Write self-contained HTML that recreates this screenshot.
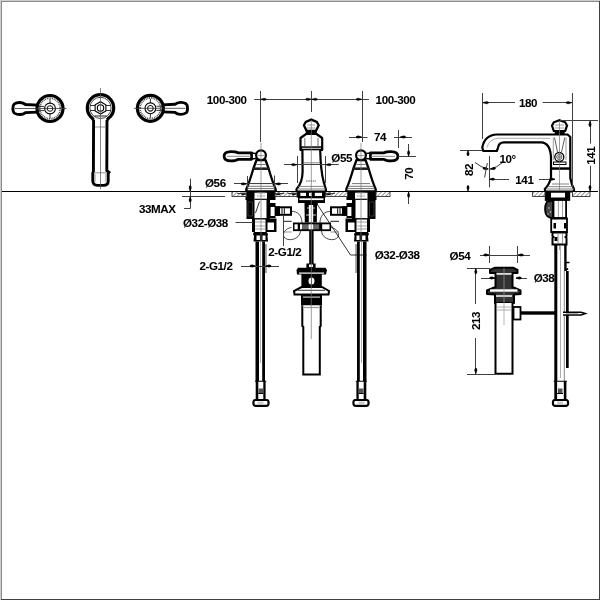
<!DOCTYPE html>
<html><head><meta charset="utf-8">
<style>
html,body{margin:0;padding:0;background:#fff;width:600px;height:600px;overflow:hidden}
svg{display:block;will-change:transform}
text{font-family:"Liberation Sans",sans-serif;font-weight:bold;font-size:11.6px;fill:#000;letter-spacing:-0.4px;stroke:#000;stroke-width:0.05px}
</style></head><body>
<svg width="600" height="600" viewBox="0 0 600 600">
<defs>
<pattern id="hatch" patternUnits="userSpaceOnUse" width="3" height="3" patternTransform="rotate(45)">
<rect width="3" height="3" fill="#fff"/><rect width="0.9" height="3" fill="#8a8a8a"/>
</pattern>
</defs>
<rect x="0" y="0" width="600" height="600" fill="#fff"/>
<g transform="translate(50,108.5) scale(1,1)">
<path d="M-12,-3.4 L-24.5,-4 C-27.5,-6.4 -32.5,-6.6 -35.6,-4.6 C-37.6,-3 -37.6,3.2 -35.6,4.6 C-32.5,6.6 -27.5,6.6 -24.5,4.1 L-12,3.6" fill="#fff" stroke="#000" stroke-width="2.9"/>
<circle r="13" fill="#fff" stroke="#000" stroke-width="3.2"/>
<circle r="10.3" fill="none" stroke="#444" stroke-width="1.8" stroke-dasharray="0.9 0.9"/>
<circle r="5.4" fill="none" stroke="#000" stroke-width="1.1"/>
<circle r="2.8" fill="none" stroke="#222" stroke-width="1.1"/>
<path d="M-12,-2.1 L-6,-2.1 M-12,2.1 L-6,2.1" stroke="#000" stroke-width="0.8"/>
<line x1="-35" y1="0" x2="16.5" y2="0" stroke="#333" stroke-width="0.8"/>
<path d="M0,-9.5 L0,-5.5 M0,5.5 L0,9.5" stroke="#000" stroke-width="0.8"/>
</g>
<g transform="translate(150.4,108.3) scale(-1,1)">
<path d="M-12,-3.4 L-24.5,-4 C-27.5,-6.4 -32.5,-6.6 -35.6,-4.6 C-37.6,-3 -37.6,3.2 -35.6,4.6 C-32.5,6.6 -27.5,6.6 -24.5,4.1 L-12,3.6" fill="#fff" stroke="#000" stroke-width="2.9"/>
<circle r="13" fill="#fff" stroke="#000" stroke-width="3.2"/>
<circle r="10.3" fill="none" stroke="#444" stroke-width="1.8" stroke-dasharray="0.9 0.9"/>
<circle r="5.4" fill="none" stroke="#000" stroke-width="1.1"/>
<circle r="2.8" fill="none" stroke="#222" stroke-width="1.1"/>
<path d="M-12,-2.1 L-6,-2.1 M-12,2.1 L-6,2.1" stroke="#000" stroke-width="0.8"/>
<line x1="-35" y1="0" x2="16.5" y2="0" stroke="#333" stroke-width="0.8"/>
<path d="M0,-9.5 L0,-5.5 M0,5.5 L0,9.5" stroke="#000" stroke-width="0.8"/>
</g>
<g>
<path d="M93.6,117 L93.4,171.5 L92.8,173 L92.8,181 Q93,185.3 97.5,185.4 L103.5,185.4 Q108.2,185.3 108.2,181 L108.2,173.5 L109,172.3 L106.8,170.5 L107,117" fill="#fff" stroke="#000" stroke-width="2.9"/>
<path d="M95,127 L105.5,127 M94.5,172.8 L107,172.8" stroke="#777" stroke-width="0.8" fill="none"/>
<path d="M95.2,174 L95.2,182 M105.8,174 L105.8,182" stroke="#999" stroke-width="0.8" fill="none"/>
<path d="M93.5,120 Q92,117.5 90.5,116.5 A13.2 13.2 0 1 1 110.5,116.5 Q109,117.5 107,120" fill="#fff" stroke="#000" stroke-width="3.2"/>
<circle cx="100.5" cy="107.9" r="10.6" fill="none" stroke="#333" stroke-width="0.9"/>
<path d="M90.5,105.5 L96,105.5 M105,105.5 L110.5,105.5 M90.5,110.5 L96,110.5 M105,110.5 L110.5,110.5" stroke="#000" stroke-width="0.8"/>
<polygon points="105.87,111.00 100.50,114.10 95.13,111.00 95.13,104.80 100.50,101.70 105.87,104.80" fill="#fff" stroke="#000" stroke-width="1.1"/>
<circle cx="100.5" cy="107.9" r="3.2" fill="none" stroke="#000" stroke-width="1.1"/>
<path d="M94.5,116 L106.5,116" stroke="#000" stroke-width="0.9"/>
<line x1="100.5" y1="88" x2="100.5" y2="189" stroke="#555" stroke-width="0.7"/>
</g>
<g transform="translate(261,0) scale(1,1)">
<path d="M-9.5,152.8 L-23,152.8 C-25,151.6 -27,151.6 -30,151.6 C-35,151.6 -36.9,153.5 -36.9,156.2 C-36.9,159 -35,160.8 -30,160.8 C-27,160.8 -25,160.8 -23,159.3 L-9.5,159.3 Z" fill="#fff" stroke="#000" stroke-width="2.8" stroke-linejoin="round"/>
<path d="M-34,156.3 L-10,156.3" stroke="#888" stroke-width="1"/>
<path d="M-10,153 L-5,153.5 M-10,159 L-5,158.5" stroke="#000" stroke-width="1.3"/>
<path d="M-4.5,160 L-7.6,168.5 Q-11.5,182 -14.6,189 L-14.8,191.5 L14.8,191.5 L14.6,189 Q11.5,182 7.6,168.5 L4.5,160 Z" fill="#fff" stroke="#000" stroke-width="2.3" stroke-linejoin="round"/>
<rect x="-7.8" y="167.4" width="15.6" height="2.6" fill="#222"/>
<path d="M-4.5,164.5 L4.5,164.5 M-9,183.6 L9,183.6 M-12.5,186.3 L12.5,186.3 M-13.5,188.6 L13.5,188.6" stroke="#666" stroke-width="0.9"/>
<circle cx="0" cy="155.3" r="4.9" fill="#fff" stroke="#000" stroke-width="2.2"/>
<path d="M-3.5,155.5 L3.5,155.5" stroke="#777" stroke-width="0.7"/>
<rect x="-15.5" y="191.5" width="9" height="8.5" fill="#000"/>
<rect x="6" y="191.5" width="8.5" height="8.5" fill="#000"/>
<path d="M-6.5,199.3 L6,199.3" stroke="#000" stroke-width="1.2"/>
<path d="M-4,193 L4,193 M-4,196 L4,196" stroke="#999" stroke-width="0.8"/>
<rect x="-14.5" y="200" width="8" height="19" fill="#000"/>
<path d="M-13,202 L-8.5,202 L-8.5,216 L-13,216 Z" fill="none" stroke="#555" stroke-width="0.6"/>
<rect x="5.5" y="200" width="3.5" height="19" fill="#000"/>
<rect x="9" y="203" width="5.5" height="15" fill="#000"/>
<rect x="9.6" y="207" width="4" height="9" fill="#fff"/>
<path d="M-5.5,213 L-1.5,201.5" stroke="#000" stroke-width="0.8"/>
<path d="M-6.5,218.8 L5.5,218.8" stroke="#000" stroke-width="1.4"/>
<rect x="15" y="207.3" width="15" height="7.5" fill="#fff" stroke="#000" stroke-width="2"/>
<rect x="14" y="206.3" width="5" height="9.5" fill="#000"/>
<path d="M21,208.3 L21,213.8 M23.3,208.3 L23.3,213.8" stroke="#000" stroke-width="1"/>
<rect x="-9" y="218.5" width="3" height="13.5" fill="#000"/>
<rect x="4.5" y="218.5" width="11" height="13.5" fill="#000"/>
<rect x="6.5" y="222.5" width="6.5" height="7.5" fill="#fff"/>
<path d="M-6,222 L4.5,222 M-6,226 L4.5,226 M-6,229 L4.5,229" stroke="#888" stroke-width="0.8"/>
<path d="M-7,232 L5.5,232 L7,234 L6.5,236 L7,241.5 L-7.5,241.5 L-7,236 L-8,234 Z" fill="#000"/>
<rect x="-4.5" y="235.5" width="3.4" height="4.5" fill="#fff"/><rect x="1.5" y="235.5" width="3" height="4.5" fill="#fff"/>
<rect x="-5.5" y="241.5" width="3.5" height="139.5" fill="#000"/>
<rect x="1.2" y="241.5" width="2.8" height="139.5" fill="#000"/>
<rect x="4" y="244" width="1.8" height="29" fill="#999"/>
<path d="M-0.5,242 L-0.5,363" stroke="#999" stroke-width="0.8"/>
<rect x="-5.3" y="381" width="2.6" height="18.5" fill="#000"/>
<rect x="2.3" y="381" width="2.3" height="18.5" fill="#000"/>
<path d="M-6,381.2 L5.2,381.2 M-2.7,393.5 L2.3,393.5" stroke="#000" stroke-width="1.1"/>
<rect x="-2.5" y="388.5" width="4.5" height="4.5" fill="#555"/>
<path d="M-5.8,400 Q-7.6,400 -7.6,402.8 Q-7.6,405.8 -5.8,405.8 L5.8,405.8 Q7.6,405.8 7.6,402.8 Q7.6,400 5.8,400 Z" fill="#fff" stroke="#000" stroke-width="2.2"/>
<rect x="-3.5" y="401.5" width="6" height="2.8" fill="#ccc"/>
<line x1="0" y1="143" x2="0" y2="242" stroke="#777" stroke-width="0.7"/>
</g>
<g transform="translate(361,0) scale(-1,1)">
<path d="M-9.5,152.8 L-23,152.8 C-25,151.6 -27,151.6 -30,151.6 C-35,151.6 -36.9,153.5 -36.9,156.2 C-36.9,159 -35,160.8 -30,160.8 C-27,160.8 -25,160.8 -23,159.3 L-9.5,159.3 Z" fill="#fff" stroke="#000" stroke-width="2.8" stroke-linejoin="round"/>
<path d="M-34,156.3 L-10,156.3" stroke="#888" stroke-width="1"/>
<path d="M-10,153 L-5,153.5 M-10,159 L-5,158.5" stroke="#000" stroke-width="1.3"/>
<path d="M-4.5,160 L-7.6,168.5 Q-11.5,182 -14.6,189 L-14.8,191.5 L14.8,191.5 L14.6,189 Q11.5,182 7.6,168.5 L4.5,160 Z" fill="#fff" stroke="#000" stroke-width="2.3" stroke-linejoin="round"/>
<rect x="-7.8" y="167.4" width="15.6" height="2.6" fill="#222"/>
<path d="M-4.5,164.5 L4.5,164.5 M-9,183.6 L9,183.6 M-12.5,186.3 L12.5,186.3 M-13.5,188.6 L13.5,188.6" stroke="#666" stroke-width="0.9"/>
<circle cx="0" cy="155.3" r="4.9" fill="#fff" stroke="#000" stroke-width="2.2"/>
<path d="M-3.5,155.5 L3.5,155.5" stroke="#777" stroke-width="0.7"/>
<rect x="-15.5" y="191.5" width="9" height="8.5" fill="#000"/>
<rect x="6" y="191.5" width="8.5" height="8.5" fill="#000"/>
<path d="M-6.5,199.3 L6,199.3" stroke="#000" stroke-width="1.2"/>
<path d="M-4,193 L4,193 M-4,196 L4,196" stroke="#999" stroke-width="0.8"/>
<rect x="-14.5" y="200" width="8" height="19" fill="#000"/>
<path d="M-13,202 L-8.5,202 L-8.5,216 L-13,216 Z" fill="none" stroke="#555" stroke-width="0.6"/>
<rect x="5.5" y="200" width="3.5" height="19" fill="#000"/>
<rect x="9" y="203" width="5.5" height="15" fill="#000"/>
<rect x="9.6" y="207" width="4" height="9" fill="#fff"/>
<path d="M-6.5,218.8 L5.5,218.8" stroke="#000" stroke-width="1.4"/>
<rect x="15" y="207.3" width="15" height="7.5" fill="#fff" stroke="#000" stroke-width="2"/>
<rect x="14" y="206.3" width="5" height="9.5" fill="#000"/>
<path d="M21,208.3 L21,213.8 M23.3,208.3 L23.3,213.8" stroke="#000" stroke-width="1"/>
<rect x="-9" y="218.5" width="3" height="13.5" fill="#000"/>
<rect x="4.5" y="218.5" width="11" height="13.5" fill="#000"/>
<rect x="6.5" y="222.5" width="6.5" height="7.5" fill="#fff"/>
<path d="M-6,222 L4.5,222 M-6,226 L4.5,226 M-6,229 L4.5,229" stroke="#888" stroke-width="0.8"/>
<path d="M-7,232 L5.5,232 L7,234 L6.5,236 L7,241.5 L-7.5,241.5 L-7,236 L-8,234 Z" fill="#000"/>
<rect x="-4.5" y="235.5" width="3.4" height="4.5" fill="#fff"/><rect x="1.5" y="235.5" width="3" height="4.5" fill="#fff"/>
<rect x="-5.5" y="241.5" width="3.5" height="139.5" fill="#000"/>
<rect x="1.2" y="241.5" width="2.8" height="139.5" fill="#000"/>
<rect x="4" y="244" width="1.8" height="29" fill="#999"/>
<path d="M-0.5,242 L-0.5,363" stroke="#999" stroke-width="0.8"/>
<rect x="-5.3" y="381" width="2.6" height="18.5" fill="#000"/>
<rect x="2.3" y="381" width="2.3" height="18.5" fill="#000"/>
<path d="M-6,381.2 L5.2,381.2 M-2.7,393.5 L2.3,393.5" stroke="#000" stroke-width="1.1"/>
<rect x="-2.5" y="388.5" width="4.5" height="4.5" fill="#555"/>
<path d="M-5.8,400 Q-7.6,400 -7.6,402.8 Q-7.6,405.8 -5.8,405.8 L5.8,405.8 Q7.6,405.8 7.6,402.8 Q7.6,400 5.8,400 Z" fill="#fff" stroke="#000" stroke-width="2.2"/>
<rect x="-3.5" y="401.5" width="6" height="2.8" fill="#ccc"/>
<line x1="0" y1="143" x2="0" y2="242" stroke="#777" stroke-width="0.7"/>
</g>
<g>
<path d="M300.5,138 L300.5,150 L302.4,150 L302.6,172 Q302.3,183 296.6,189 L296.4,191.5 L326,191.5 L325.8,189 Q321.5,177 320.6,160 L320.2,150 L322.2,150 L322.2,138 L316.5,134 L306.1,134 Z" fill="#fff" stroke="#000" stroke-width="2.2" stroke-linejoin="round"/>
<rect x="300.5" y="146.3" width="21.7" height="4" fill="#000"/>
<path d="M302,148.3 L321,148.3" stroke="#fff" stroke-width="0.9"/>
<path d="M304.8,138 L304.8,146 M318,138 L318,146" stroke="#888" stroke-width="1.2"/>
<path d="M303.5,162.8 L320,162.8 M298,186.4 L324.5,186.4 M297,189 L325.5,189" stroke="#666" stroke-width="0.8"/>
<path d="M306,181 L316,181" stroke="#555" stroke-width="1" stroke-dasharray="1.5 0.8"/>
<path d="M311.3,119.6 L316.8,122 L318.7,125.3 L316,130.8 L306.6,130.8 L303.9,125.3 L305.8,122 Z" fill="#fff" stroke="#000" stroke-width="2.3" stroke-linejoin="miter"/>
<rect x="305.8" y="130" width="11" height="4.2" fill="#000"/>
<path d="M307.5,125 L315,125 M307,128 L315.5,128" stroke="#777" stroke-width="0.7"/>
<rect x="297.5" y="192" width="27.3" height="4.8" fill="#fff" stroke="#000" stroke-width="1.6"/>
<rect x="296.8" y="191.5" width="3.5" height="5.5" fill="#000"/><rect x="322" y="191.5" width="3.3" height="5.5" fill="#000"/>
<rect x="306" y="192" width="3" height="5" fill="#000"/><rect x="311.8" y="192" width="3" height="5" fill="#000"/>
<path d="M298,197 L325,197 L325,203 L298,203 Z" fill="#000"/>
<rect x="299.5" y="198.3" width="24" height="1.8" fill="#fff"/>
<path d="M304.5,203 L318,203 L317,206 L316.8,222.5 L304.8,222.5 L304.5,206 Z" fill="#000"/>
<rect x="308.8" y="205" width="4.4" height="17.5" fill="#fff"/>
<path d="M307,208 L308.8,208 M313.2,208 L315,208" stroke="#fff" stroke-width="0.8"/>
<path d="M306,215 L316,215" stroke="#fff" stroke-width="0.8"/>
<rect x="293" y="222.5" width="38" height="8.6" fill="#000"/>
<rect x="294.5" y="224.3" width="3.2" height="5" fill="#fff"/><rect x="322.2" y="224.3" width="7.3" height="5" fill="#fff"/>
<rect x="300" y="224.3" width="2" height="5" fill="#fff"/><rect x="302" y="224.3" width="6.5" height="5" fill="#666"/><rect x="313.2" y="224.3" width="6" height="5" fill="#666"/>
<rect x="308.5" y="224.3" width="4.7" height="5" fill="#fff"/>
<rect x="309.2" y="231" width="4.4" height="33" fill="#000"/>
<path d="M291.5,211.5 C298,211 302,216 302,223 M300.5,231 C300,240 287,242 284,237 C282,233 286,228 291.5,227.5" fill="none" stroke="#000" stroke-width="0.7"/>
<path d="M283.3,221.3 L291.7,221.3" stroke="#000" stroke-width="0.9"/><path d="M283.3,232 L291.7,232" stroke="#888" stroke-width="0.9"/>
<path d="M331,211.5 C324,211 320,216 320,223 M321.5,231 C322,240 335,242 338,237 C340,233 336,228 331,227.5" fill="none" stroke="#000" stroke-width="0.7"/>
<path d="M330.5,221.3 L339,221.3" stroke="#000" stroke-width="0.9"/><path d="M330.5,232 L339,232" stroke="#888" stroke-width="0.9"/>
<rect x="306.4" y="263.5" width="9.2" height="4.5" fill="#000"/><rect x="309" y="264.5" width="4" height="2.5" fill="#fff"/>
<path d="M298,267.8 L325.5,267.8 L327,270 L326,274.5 L297,274.5 L296.5,270 Z" fill="#000"/>
<rect x="299" y="272.5" width="25" height="1.2" fill="#fff"/>
<rect x="301.4" y="274" width="20.4" height="13" fill="#000"/>
<ellipse cx="311.5" cy="281" rx="3" ry="3.5" fill="#fff"/><path d="M311.5,277 L311.5,285" stroke="#000" stroke-width="0.7"/>
<path d="M301.5,287 L322,287 L329,291 L328.5,294.5 L294.5,294.5 L294,291 Z" fill="#fff" stroke="#000" stroke-width="2"/>
<path d="M298,290.3 L325,290.3" stroke="#000" stroke-width="0.8"/>
<rect x="301" y="295" width="21" height="10.5" fill="#000"/><rect x="303" y="296.5" width="17" height="1.2" fill="#ccc"/>
<path d="M302.3,305.5 L302.3,326 L303.3,327 L303.3,374.5 L319.8,374.5 L319.8,327 L320.7,326 L320.7,305.5" fill="#fff" stroke="#000" stroke-width="2"/>
<path d="M304,307.5 L319,307.5" stroke="#999" stroke-width="1.2"/>
<line x1="311.3" y1="120" x2="311.3" y2="339" stroke="#777" stroke-width="0.7"/>
</g>
<g>
<path d="M553,134.5 L497,134.5 Q484.5,135 482.3,147.5 L483.2,151 L496.8,151 L497.8,148.5 Q498.5,142.3 504,142.3 L541,142.3 Q550.5,142.5 551,158 L551,178 Q549,185 544.8,189 L545.3,191.5 L574,191.5 L574,189 Q571.5,185 570.3,178 L570.3,137 L567.5,134.5 Z" fill="#fff" stroke="#000" stroke-width="2.2" stroke-linejoin="round"/>
<path d="M550,138.3 L498,138.3 Q489,139 487,147.5" fill="none" stroke="#888" stroke-width="0.7"/>
<path d="M553.3,137.5 L553.3,160 M566,137.5 L566,160" stroke="#888" stroke-width="0.8"/>
<path d="M554.5,137.5 L557.5,152 M564.8,137.5 L561.5,152" stroke="#333" stroke-width="0.8"/>
<rect x="553.5" y="162" width="12.5" height="2.5" fill="#fff" stroke="#000" stroke-width="1"/>
<rect x="551.5" y="167.3" width="19" height="2.5" fill="#000"/>
<path d="M552,184 L569,184 M547.5,186.7 L573,186.7 M546.5,189 L574,189" stroke="#666" stroke-width="0.8"/>
<circle cx="559.3" cy="157" r="4.5" fill="#fff" stroke="#000" stroke-width="1.3"/><circle cx="559.3" cy="157" r="2.6" fill="none" stroke="#333" stroke-width="0.8"/><circle cx="559.3" cy="157" r="1.1" fill="none" stroke="#333" stroke-width="0.7"/>
<path d="M559.5,120.2 L565.2,122.3 L567,125.5 L565.2,131 L553.8,131 L552,125.5 L553.8,122.3 Z" fill="#fff" stroke="#000" stroke-width="2.2" stroke-linejoin="miter"/>
<rect x="554.7" y="130.5" width="10" height="4" fill="#000"/>
<path d="M555,125 L564,125 M555,128 L564,128" stroke="#777" stroke-width="0.7"/>
<line x1="559.5" y1="121" x2="559.5" y2="250" stroke="#777" stroke-width="0.7"/>
<path d="M545.5,192 L569.5,192 L569.5,200 L545.5,200 Z" fill="#fff" stroke="#000" stroke-width="1.4"/>
<rect x="545" y="197.5" width="25" height="3" fill="#000"/>
<rect x="545" y="192" width="6" height="6" fill="#000"/><rect x="565" y="192" width="5" height="6" fill="#000"/>
<rect x="553.5" y="200" width="12.6" height="18" fill="#fff" stroke="#000" stroke-width="1.8"/>
<path d="M558.4,201 L558.4,217 M562.5,201 L562.5,217" stroke="#888" stroke-width="0.8"/>
<path d="M553,200.5 L547,201.5 L546,204 Q544.8,206 545.2,211 Q545.5,217.5 553,218.3 Z" fill="#444" stroke="#000" stroke-width="1.8" stroke-linejoin="round"/>
<circle cx="549" cy="208" r="0.8" fill="#ccc"/><circle cx="550.5" cy="212" r="0.8" fill="#ccc"/><circle cx="548" cy="214" r="0.7" fill="#ccc"/>
<path d="M551.2,218.5 L567,218.5 L567,232 L551.2,232 Z" fill="#fff" stroke="#000" stroke-width="1.8"/>
<rect x="553.5" y="223" width="2.5" height="5.5" fill="#000"/><rect x="564" y="223" width="2.2" height="5.5" fill="#000"/>
<path d="M552.5,232.5 L566.5,232.5 L566.5,236 L565.5,237 L566.5,238 L566.5,244.5 L552.5,244.5 L552.5,238 L553.5,237 L552.5,236 Z" fill="#fff" stroke="#000" stroke-width="2"/>
<rect x="554.5" y="237" width="3" height="4" fill="#000"/>
<path d="M558,234 L558,244 M562.5,234 L562.5,244" stroke="#777" stroke-width="0.8"/>
<rect x="554.3" y="244.5" width="3" height="136.5" fill="#000"/>
<rect x="564.2" y="244.5" width="2.4" height="26.5" fill="#000"/>
<rect x="563.8" y="271" width="1" height="110" fill="#888"/>
<path d="M560.5,246 L560.5,378" stroke="#999" stroke-width="0.8"/>
<rect x="554.3" y="381" width="2.8" height="18.5" fill="#000"/>
<rect x="563.8" y="381" width="2.6" height="18.5" fill="#000"/>
<path d="M553.8,381.2 L567,381.2 M557,393.5 L563,393.5" stroke="#000" stroke-width="1.1"/>
<rect x="558" y="388.5" width="4.5" height="4.5" fill="#555"/>
<path d="M554.7,400 Q552.9,400 552.9,402.8 Q552.9,405.8 554.7,405.8 L566.3,405.8 Q568.1,405.8 568.1,402.8 Q568.1,400 566.3,400 Z" fill="#fff" stroke="#000" stroke-width="2.2"/>
<rect x="557" y="401.5" width="6" height="2.8" fill="#ccc"/>
<path d="M566,262.5 L569.5,262.5 M566,270 L568,268.5" fill="none" stroke="#000" stroke-width="1.6"/>
<rect x="566" y="271" width="2.7" height="97" fill="#000"/>
<path d="M563,312.3 L581,312.3 L585.5,313.6 L581,315 L563,315" fill="#fff" stroke="#000" stroke-width="1.4"/>
<path d="M566,313.6 L578,313.6" stroke="#888" stroke-width="0.7"/>
<path d="M495,267.7 L513,267.7 L517.5,270 L517.5,273 L512.5,273 L512.5,287 L520.5,290.5 L520.5,294 L514,294.5 L514,303 L495,303 L495,294.5 L487,294 L487,290.5 L495.5,287 L495.5,273 L490,273 L490,270 Z" fill="#333" stroke="#000" stroke-width="2" stroke-linejoin="round"/>
<rect x="496.5" y="273" width="15" height="1.8" fill="#ddd"/>
<path d="M490,290.5 L517.5,290.5" stroke="#fff" stroke-width="2.4"/>
<path d="M496,296 L512,296" stroke="#fff" stroke-width="1.5"/>
<path d="M495.5,303 L495.5,373.8 L512.5,373.8 L512.5,303" fill="#fff" stroke="#000" stroke-width="2"/>
<path d="M497,307 L511,307 M497,310 L511,310" stroke="#999" stroke-width="0.8"/>
<line x1="504" y1="268" x2="504" y2="325" stroke="#999" stroke-width="0.7"/>
<rect x="513.5" y="307" width="7" height="12.5" fill="#fff" stroke="#000" stroke-width="1.8"/>
<rect x="520" y="311.3" width="35.5" height="3.4" fill="#000"/>
</g>
<rect x="232" y="191.5" width="14.5" height="5" fill="url(#hatch)" stroke="#333" stroke-width="0.9"/>
<rect x="275" y="191.5" width="22" height="5" fill="url(#hatch)" stroke="#333" stroke-width="0.9"/>
<rect x="325.5" y="191.5" width="22.0" height="5" fill="url(#hatch)" stroke="#333" stroke-width="0.9"/>
<rect x="376" y="191.5" width="14" height="5" fill="url(#hatch)" stroke="#333" stroke-width="0.9"/>
<rect x="532.6" y="191.5" width="12.399999999999977" height="5" fill="url(#hatch)" stroke="#333" stroke-width="0.9"/>
<rect x="572.5" y="191.5" width="17.5" height="5" fill="url(#hatch)" stroke="#333" stroke-width="0.9"/>
<line x1="2" y1="191.5" x2="598" y2="191.5" stroke="#000" stroke-width="1.0"/>
<path d="M246.30,193.90 L243.55,195.00 Q241.30,195.00 241.30,193.90 Q241.30,192.80 243.55,192.80 Z" fill="#000" stroke="#000" stroke-width="0.4"/>
<line x1="246.30" y1="193.90" x2="241.30" y2="193.90" stroke="#000" stroke-width="0.8"/>
<line x1="237.3" y1="193.5" x2="246.3" y2="193.5" stroke="#404040" stroke-width="1"/>
<path d="M275.30,193.90 L278.05,192.80 Q280.30,192.80 280.30,193.90 Q280.30,195.00 278.05,195.00 Z" fill="#000" stroke="#000" stroke-width="0.4"/>
<line x1="275.30" y1="193.90" x2="280.30" y2="193.90" stroke="#000" stroke-width="0.8"/>
<line x1="284.3" y1="193.5" x2="275.3" y2="193.5" stroke="#404040" stroke-width="1"/>
<path d="M296.70,193.90 L293.95,195.00 Q291.70,195.00 291.70,193.90 Q291.70,192.80 293.95,192.80 Z" fill="#000" stroke="#000" stroke-width="0.4"/>
<line x1="296.70" y1="193.90" x2="291.70" y2="193.90" stroke="#000" stroke-width="0.8"/>
<line x1="287.7" y1="193.5" x2="296.7" y2="193.5" stroke="#404040" stroke-width="1"/>
<path d="M325.80,193.90 L328.55,192.80 Q330.80,192.80 330.80,193.90 Q330.80,195.00 328.55,195.00 Z" fill="#000" stroke="#000" stroke-width="0.4"/>
<line x1="325.80" y1="193.90" x2="330.80" y2="193.90" stroke="#000" stroke-width="0.8"/>
<line x1="334.8" y1="193.5" x2="325.8" y2="193.5" stroke="#404040" stroke-width="1"/>
<line x1="182" y1="196.5" x2="225" y2="196.5" stroke="#404040" stroke-width="1"/>
<line x1="254.3" y1="99.5" x2="369" y2="99.5" stroke="#404040" stroke-width="1"/>
<line x1="260.5" y1="91" x2="260.5" y2="142" stroke="#404040" stroke-width="1"/>
<line x1="311.5" y1="91" x2="311.5" y2="112" stroke="#404040" stroke-width="1"/>
<line x1="362.5" y1="91" x2="362.5" y2="142" stroke="#404040" stroke-width="1"/>
<path d="M260.90,99.30 L263.87,98.15 Q266.30,98.15 266.30,99.30 Q266.30,100.45 263.87,100.45 Z" fill="#000" stroke="#000" stroke-width="0.4"/>
<line x1="260.90" y1="99.30" x2="266.30" y2="99.30" stroke="#000" stroke-width="0.8"/>
<path d="M311.00,99.30 L308.03,100.45 Q305.60,100.45 305.60,99.30 Q305.60,98.15 308.03,98.15 Z" fill="#000" stroke="#000" stroke-width="0.4"/>
<line x1="311.00" y1="99.30" x2="305.60" y2="99.30" stroke="#000" stroke-width="0.8"/>
<path d="M312.00,99.30 L314.97,98.15 Q317.40,98.15 317.40,99.30 Q317.40,100.45 314.97,100.45 Z" fill="#000" stroke="#000" stroke-width="0.4"/>
<line x1="312.00" y1="99.30" x2="317.40" y2="99.30" stroke="#000" stroke-width="0.8"/>
<path d="M361.50,99.30 L358.53,100.45 Q356.10,100.45 356.10,99.30 Q356.10,98.15 358.53,98.15 Z" fill="#000" stroke="#000" stroke-width="0.4"/>
<line x1="361.50" y1="99.30" x2="356.10" y2="99.30" stroke="#000" stroke-width="0.8"/>
<line x1="349" y1="137.5" x2="367.5" y2="137.5" stroke="#404040" stroke-width="1"/>
<line x1="394" y1="137.5" x2="412" y2="137.5" stroke="#404040" stroke-width="1"/>
<line x1="398.5" y1="130" x2="398.5" y2="148" stroke="#404040" stroke-width="1"/>
<path d="M361.50,137.00 L358.53,138.15 Q356.10,138.15 356.10,137.00 Q356.10,135.85 358.53,135.85 Z" fill="#000" stroke="#000" stroke-width="0.4"/>
<line x1="361.50" y1="137.00" x2="356.10" y2="137.00" stroke="#000" stroke-width="0.8"/>
<path d="M400.30,137.00 L403.27,135.85 Q405.70,135.85 405.70,137.00 Q405.70,138.15 403.27,138.15 Z" fill="#000" stroke="#000" stroke-width="0.4"/>
<line x1="400.30" y1="137.00" x2="405.70" y2="137.00" stroke="#000" stroke-width="0.8"/>
<line x1="408.5" y1="144" x2="408.5" y2="157" stroke="#404040" stroke-width="1"/>
<line x1="398" y1="156.5" x2="416" y2="156.5" stroke="#404040" stroke-width="1"/>
<path d="M408.60,156.10 L407.45,153.13 Q407.45,150.70 408.60,150.70 Q409.75,150.70 409.75,153.13 Z" fill="#000" stroke="#000" stroke-width="0.4"/>
<line x1="408.60" y1="156.10" x2="408.60" y2="150.70" stroke="#000" stroke-width="0.8"/>
<line x1="408.5" y1="191.5" x2="408.5" y2="204" stroke="#404040" stroke-width="1"/>
<path d="M408.60,192.00 L409.75,194.97 Q409.75,197.40 408.60,197.40 Q407.45,197.40 407.45,194.97 Z" fill="#000" stroke="#000" stroke-width="0.4"/>
<line x1="408.60" y1="192.00" x2="408.60" y2="197.40" stroke="#000" stroke-width="0.8"/>
<line x1="284" y1="164.5" x2="338.7" y2="164.5" stroke="#404040" stroke-width="1"/>
<line x1="297.5" y1="156" x2="297.5" y2="183" stroke="#404040" stroke-width="1"/>
<line x1="325.5" y1="156" x2="325.5" y2="183" stroke="#404040" stroke-width="1"/>
<path d="M296.80,164.70 L293.83,165.85 Q291.40,165.85 291.40,164.70 Q291.40,163.55 293.83,163.55 Z" fill="#000" stroke="#000" stroke-width="0.4"/>
<line x1="296.80" y1="164.70" x2="291.40" y2="164.70" stroke="#000" stroke-width="0.8"/>
<path d="M325.80,164.70 L328.77,163.55 Q331.20,163.55 331.20,164.70 Q331.20,165.85 328.77,165.85 Z" fill="#000" stroke="#000" stroke-width="0.4"/>
<line x1="325.80" y1="164.70" x2="331.20" y2="164.70" stroke="#000" stroke-width="0.8"/>
<line x1="234" y1="183.5" x2="288" y2="183.5" stroke="#404040" stroke-width="1"/>
<line x1="247.5" y1="176" x2="247.5" y2="190" stroke="#404040" stroke-width="1"/>
<line x1="274.5" y1="175.5" x2="274.5" y2="190" stroke="#404040" stroke-width="1"/>
<path d="M246.50,183.90 L243.53,185.05 Q241.10,185.05 241.10,183.90 Q241.10,182.75 243.53,182.75 Z" fill="#000" stroke="#000" stroke-width="0.4"/>
<line x1="246.50" y1="183.90" x2="241.10" y2="183.90" stroke="#000" stroke-width="0.8"/>
<path d="M275.30,183.90 L278.27,182.75 Q280.70,182.75 280.70,183.90 Q280.70,185.05 278.27,185.05 Z" fill="#000" stroke="#000" stroke-width="0.4"/>
<line x1="275.30" y1="183.90" x2="280.70" y2="183.90" stroke="#000" stroke-width="0.8"/>
<line x1="190.5" y1="178.7" x2="190.5" y2="208.7" stroke="#404040" stroke-width="1"/>
<line x1="184" y1="208.5" x2="190.2" y2="208.5" stroke="#404040" stroke-width="1"/>
<path d="M190.20,191.00 L189.05,188.03 Q189.05,185.60 190.20,185.60 Q191.35,185.60 191.35,188.03 Z" fill="#000" stroke="#000" stroke-width="0.4"/>
<line x1="190.20" y1="191.00" x2="190.20" y2="185.60" stroke="#000" stroke-width="0.8"/>
<path d="M190.20,196.70 L191.35,199.67 Q191.35,202.10 190.20,202.10 Q189.05,202.10 189.05,199.67 Z" fill="#000" stroke="#000" stroke-width="0.4"/>
<line x1="190.20" y1="196.70" x2="190.20" y2="202.10" stroke="#000" stroke-width="0.8"/>
<line x1="235.5" y1="222.5" x2="253" y2="222.5" stroke="#404040" stroke-width="1"/>
<line x1="241" y1="266.5" x2="279" y2="266.5" stroke="#404040" stroke-width="1"/>
<path d="M255.30,266.00 L252.33,267.15 Q249.90,267.15 249.90,266.00 Q249.90,264.85 252.33,264.85 Z" fill="#000" stroke="#000" stroke-width="0.4"/>
<line x1="255.30" y1="266.00" x2="249.90" y2="266.00" stroke="#000" stroke-width="0.8"/>
<path d="M265.70,266.00 L268.67,264.85 Q271.10,264.85 271.10,266.00 Q271.10,267.15 268.67,267.15 Z" fill="#000" stroke="#000" stroke-width="0.4"/>
<line x1="265.70" y1="266.00" x2="271.10" y2="266.00" stroke="#000" stroke-width="0.8"/>
<line x1="283.5" y1="215" x2="283.5" y2="246" stroke="#404040" stroke-width="1"/>
<polyline points="317,204 350.5,255 366.7,255" fill="none" stroke="#000" stroke-width="0.8"/>
<line x1="482.7" y1="102.5" x2="515" y2="102.5" stroke="#404040" stroke-width="1"/>
<line x1="542.7" y1="102.5" x2="572" y2="102.5" stroke="#404040" stroke-width="1"/>
<line x1="482.5" y1="93" x2="482.5" y2="139" stroke="#404040" stroke-width="1"/>
<line x1="572.5" y1="93" x2="572.5" y2="186" stroke="#404040" stroke-width="1"/>
<path d="M483.20,102.70 L486.17,101.55 Q488.60,101.55 488.60,102.70 Q488.60,103.85 486.17,103.85 Z" fill="#000" stroke="#000" stroke-width="0.4"/>
<line x1="483.20" y1="102.70" x2="488.60" y2="102.70" stroke="#000" stroke-width="0.8"/>
<path d="M571.50,102.70 L568.53,103.85 Q566.10,103.85 566.10,102.70 Q566.10,101.55 568.53,101.55 Z" fill="#000" stroke="#000" stroke-width="0.4"/>
<line x1="571.50" y1="102.70" x2="566.10" y2="102.70" stroke="#000" stroke-width="0.8"/>
<line x1="590.5" y1="121" x2="590.5" y2="143.6" stroke="#404040" stroke-width="1"/>
<line x1="590.5" y1="165.8" x2="590.5" y2="191" stroke="#404040" stroke-width="1"/>
<line x1="560" y1="120.5" x2="598" y2="120.5" stroke="#404040" stroke-width="1"/>
<path d="M590.00,121.30 L591.15,124.27 Q591.15,126.70 590.00,126.70 Q588.85,126.70 588.85,124.27 Z" fill="#000" stroke="#000" stroke-width="0.4"/>
<line x1="590.00" y1="121.30" x2="590.00" y2="126.70" stroke="#000" stroke-width="0.8"/>
<path d="M590.00,190.80 L588.85,187.83 Q588.85,185.40 590.00,185.40 Q591.15,185.40 591.15,187.83 Z" fill="#000" stroke="#000" stroke-width="0.4"/>
<line x1="590.00" y1="190.80" x2="590.00" y2="185.40" stroke="#000" stroke-width="0.8"/>
<line x1="460" y1="150.5" x2="482" y2="150.5" stroke="#404040" stroke-width="1"/>
<path d="M468.00,150.50 L469.15,153.47 Q469.15,155.90 468.00,155.90 Q466.85,155.90 466.85,153.47 Z" fill="#000" stroke="#000" stroke-width="0.4"/>
<line x1="468.00" y1="150.50" x2="468.00" y2="155.90" stroke="#000" stroke-width="0.8"/>
<path d="M468.00,191.00 L466.85,188.03 Q466.85,185.60 468.00,185.60 Q469.15,185.60 469.15,188.03 Z" fill="#000" stroke="#000" stroke-width="0.4"/>
<line x1="468.00" y1="191.00" x2="468.00" y2="185.60" stroke="#000" stroke-width="0.8"/>
<line x1="489.5" y1="156" x2="489.5" y2="187.3" stroke="#404040" stroke-width="1"/>
<line x1="489" y1="179.5" x2="509" y2="179.5" stroke="#404040" stroke-width="1"/>
<line x1="539" y1="179.5" x2="555" y2="179.5" stroke="#404040" stroke-width="1"/>
<path d="M489.30,179.20 L492.27,178.05 Q494.70,178.05 494.70,179.20 Q494.70,180.35 492.27,180.35 Z" fill="#000" stroke="#000" stroke-width="0.4"/>
<line x1="489.30" y1="179.20" x2="494.70" y2="179.20" stroke="#000" stroke-width="0.8"/>
<path d="M555.00,179.20 L552.03,180.35 Q549.60,180.35 549.60,179.20 Q549.60,178.05 552.03,178.05 Z" fill="#000" stroke="#000" stroke-width="0.4"/>
<line x1="555.00" y1="179.20" x2="549.60" y2="179.20" stroke="#000" stroke-width="0.8"/>
<path d="M475,162.5 Q481,167.5 488,169 M490.5,169 Q497,167.5 502.5,162.5" fill="none" stroke="#000" stroke-width="0.8"/>
<path d="M488.30,169.00 L485.19,169.70 Q482.79,169.34 482.96,168.20 Q483.13,167.06 485.53,167.42 Z" fill="#000" stroke="#000" stroke-width="0.4"/>
<line x1="488.30" y1="169.00" x2="482.96" y2="168.20" stroke="#000" stroke-width="0.8"/>
<path d="M490.20,169.00 L492.97,167.42 Q495.37,167.06 495.54,168.20 Q495.71,169.34 493.31,169.70 Z" fill="#000" stroke="#000" stroke-width="0.4"/>
<line x1="490.20" y1="169.00" x2="495.54" y2="168.20" stroke="#000" stroke-width="0.8"/>
<line x1="487.3" y1="163" x2="484.6" y2="177.5" stroke="#404040" stroke-width="1"/>
<line x1="480" y1="255.5" x2="530" y2="255.5" stroke="#404040" stroke-width="1"/>
<line x1="489.5" y1="246" x2="489.5" y2="263" stroke="#404040" stroke-width="1"/>
<line x1="517.5" y1="246" x2="517.5" y2="263" stroke="#404040" stroke-width="1"/>
<path d="M489.00,255.00 L486.03,256.15 Q483.60,256.15 483.60,255.00 Q483.60,253.85 486.03,253.85 Z" fill="#000" stroke="#000" stroke-width="0.4"/>
<line x1="489.00" y1="255.00" x2="483.60" y2="255.00" stroke="#000" stroke-width="0.8"/>
<path d="M518.00,255.00 L520.97,253.85 Q523.40,253.85 523.40,255.00 Q523.40,256.15 520.97,256.15 Z" fill="#000" stroke="#000" stroke-width="0.4"/>
<line x1="518.00" y1="255.00" x2="523.40" y2="255.00" stroke="#000" stroke-width="0.8"/>
<line x1="481" y1="278.5" x2="495" y2="278.5" stroke="#404040" stroke-width="1"/>
<line x1="516" y1="278.5" x2="527" y2="278.5" stroke="#404040" stroke-width="1"/>
<path d="M495.00,278.00 L492.03,279.15 Q489.60,279.15 489.60,278.00 Q489.60,276.85 492.03,276.85 Z" fill="#000" stroke="#000" stroke-width="0.4"/>
<line x1="495.00" y1="278.00" x2="489.60" y2="278.00" stroke="#000" stroke-width="0.8"/>
<path d="M516.00,278.00 L518.97,276.85 Q521.40,276.85 521.40,278.00 Q521.40,279.15 518.97,279.15 Z" fill="#000" stroke="#000" stroke-width="0.4"/>
<line x1="516.00" y1="278.00" x2="521.40" y2="278.00" stroke="#000" stroke-width="0.8"/>
<line x1="475.5" y1="268" x2="475.5" y2="304" stroke="#404040" stroke-width="1"/>
<line x1="475.5" y1="338" x2="475.5" y2="374" stroke="#404040" stroke-width="1"/>
<line x1="467" y1="268.5" x2="490" y2="268.5" stroke="#404040" stroke-width="1"/>
<line x1="467" y1="374.5" x2="495" y2="374.5" stroke="#404040" stroke-width="1"/>
<path d="M475.80,268.50 L476.95,271.47 Q476.95,273.90 475.80,273.90 Q474.65,273.90 474.65,271.47 Z" fill="#000" stroke="#000" stroke-width="0.4"/>
<line x1="475.80" y1="268.50" x2="475.80" y2="273.90" stroke="#000" stroke-width="0.8"/>
<path d="M475.80,373.50 L474.65,370.53 Q474.65,368.10 475.80,368.10 Q476.95,368.10 476.95,370.53 Z" fill="#000" stroke="#000" stroke-width="0.4"/>
<line x1="475.80" y1="373.50" x2="475.80" y2="368.10" stroke="#000" stroke-width="0.8"/>
<text x="206.8" y="104">100-300</text>
<text x="375.6" y="104">100-300</text>
<text x="519" y="107">180</text>
<text x="374" y="141">74</text>
<text x="331.3" y="162">Ø55</text>
<text transform="translate(412.7,179.7) rotate(-90)">70</text>
<text x="499.5" y="163">10°</text>
<text transform="translate(473.3,176) rotate(-90)">82</text>
<text x="515.3" y="184">141</text>
<text transform="translate(594.5,164.8) rotate(-90)">141</text>
<text x="205" y="187">Ø56</text>
<text x="139" y="212.7">33MAX</text>
<text x="183" y="227">Ø32-Ø38</text>
<text x="268.3" y="255.8">2-G1/2</text>
<text x="199.4" y="270">2-G1/2</text>
<text x="374.7" y="259.3">Ø32-Ø38</text>
<text x="449.6" y="259.5">Ø54</text>
<text x="533.7" y="282">Ø38</text>
<text transform="translate(479.5,330) rotate(-90)">213</text>
<rect x="0" y="0" width="600" height="1" fill="#cdcdcd"/>
<rect x="0" y="0" width="1" height="600" fill="#cdcdcd"/>
<rect x="1" y="1" width="598" height="1" fill="#8a8a8a"/>
<rect x="1" y="1" width="1" height="598" fill="#8a8a8a"/>
<rect x="599" y="1" width="1" height="599" fill="#404040"/>
<rect x="1" y="599" width="599" height="1" fill="#404040"/>
</svg>
</body></html>
